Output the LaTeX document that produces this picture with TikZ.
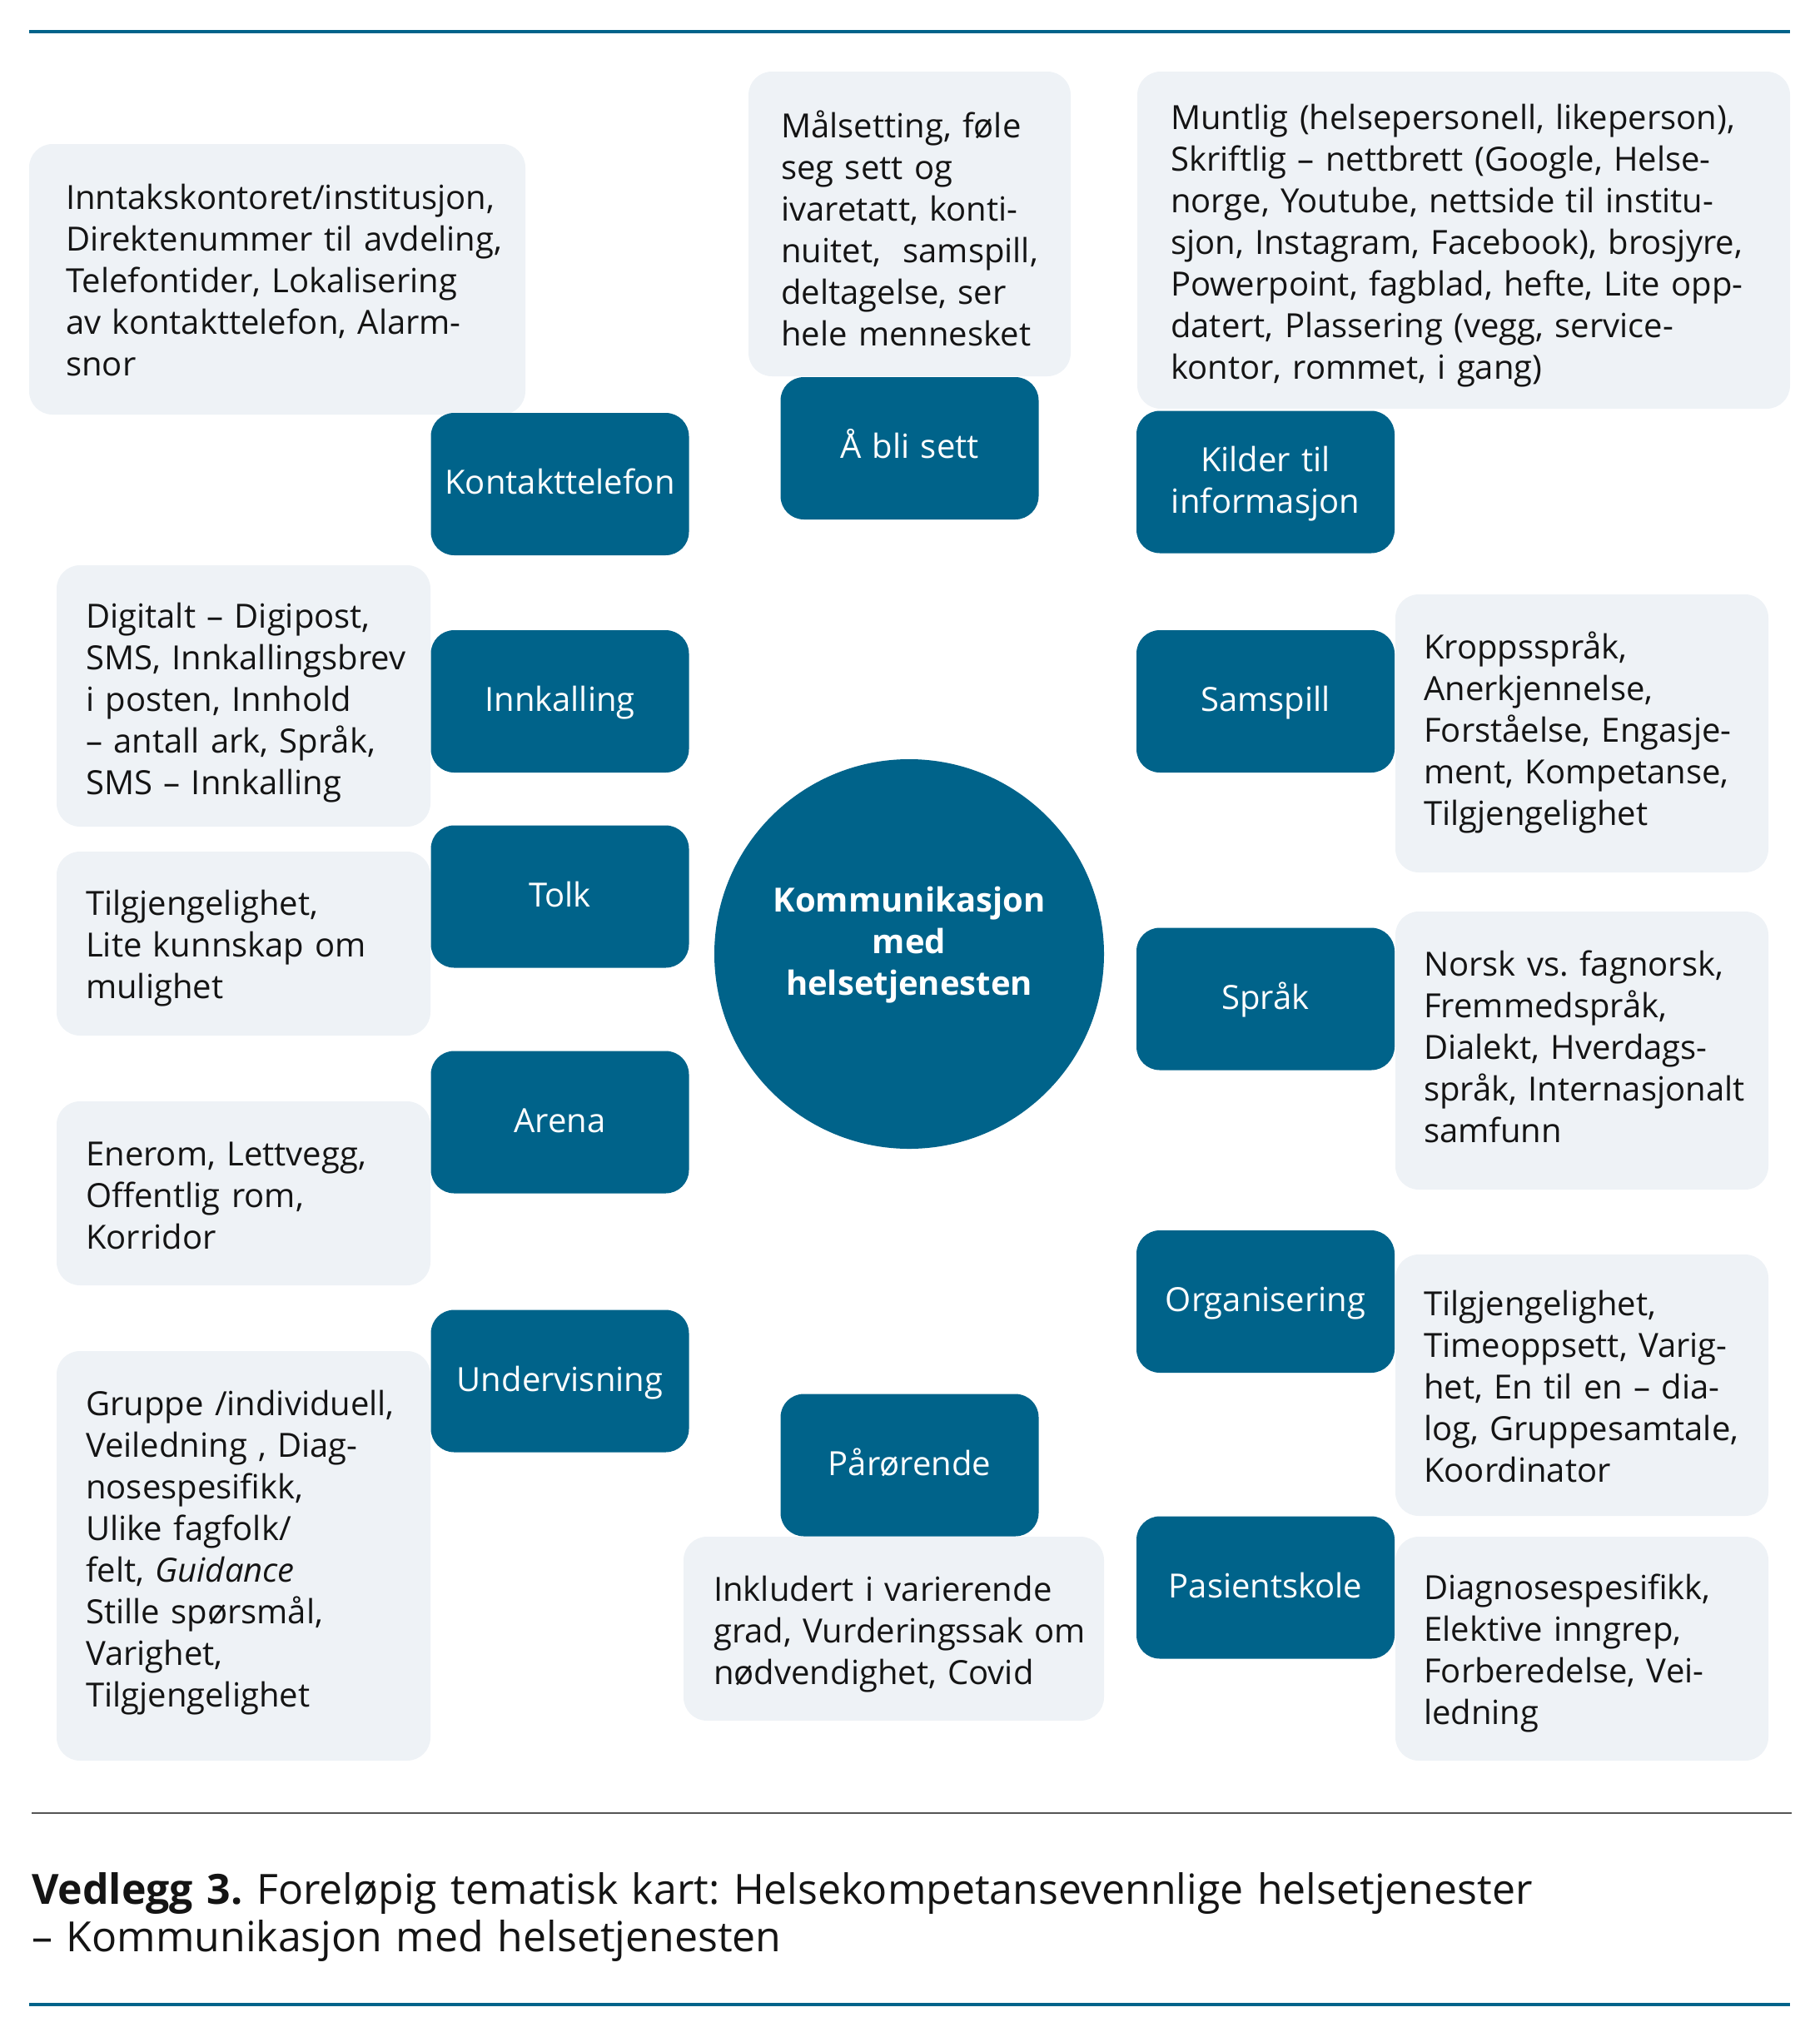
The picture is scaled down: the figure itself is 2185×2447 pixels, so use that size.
\documentclass[tikz,border=0pt]{standalone}
\usepackage{fontspec}
\setmainfont{Open Sans}
\frenchspacing

\definecolor{TemaBla}{RGB}{0,99,138}
\definecolor{Infoflate}{RGB}{238,242,246}
\definecolor{Brodtekst}{RGB}{20,20,20}
\definecolor{Skillelinje}{RGB}{85,85,85}

\newcommand{\linjestrut}{\vrule height 39.6pt depth 10.4pt width 0pt}
\newcommand{\temastrut}{\vrule height 37pt depth 13pt width 0pt}

\tikzset{
  tema/.style={fill=TemaBla, text=white, rounded corners=28pt,
    text width=310pt, minimum height=171pt, inner sep=0pt, align=center,
    font=\fontsize{40}{50}\selectfont,
    execute at begin node=\temastrut, execute at end node=\temastrut},
  infoflate/.style={fill=Infoflate, rounded corners=28pt},
  infotekst/.style={anchor=west, text width=1000pt, inner sep=0pt, align=left,
    text=Brodtekst, font=\fontsize{40}{50}\selectfont,
    execute at begin node=\linjestrut, execute at end node=\linjestrut},
  nav/.style={circle, fill=TemaBla, minimum size=468pt, inner sep=0pt},
  navtekst/.style={text=white, text width=468pt, inner sep=0pt, align=center,
    font=\fontsize{40}{50}\selectfont\bfseries,
    execute at begin node=\linjestrut, execute at end node=\linjestrut},
  bildetekst/.style={anchor=base west, text width=2150pt, inner sep=0pt,
    align=left, text=Brodtekst, font=\fontsize{50}{57}\selectfont},
  hovedlinje/.style={draw=TemaBla, line width=4.3pt},
  skillelinje/.style={draw=Skillelinje, line width=1.3pt}
}

\begin{document}
\begin{tikzpicture}[x=1pt, y=-1pt]

\useasboundingbox (0,0) rectangle (2185,2447);

\coordinate (TopV) at (35,38);
\coordinate (TopH) at (2150,38);
\coordinate (SkilleV) at (38,2178);
\coordinate (SkilleH) at (2152,2178);
\coordinate (BunnV) at (35,2408);
\coordinate (BunnH) at (2150,2408);

\draw[hovedlinje] (TopV) -- (TopH);
\draw[skillelinje] (SkilleV) -- (SkilleH);
\draw[hovedlinje] (BunnV) -- (BunnH);

% Lyse flater
\fill[infoflate] (35,173) rectangle (631,498);
\fill[infoflate] (899,86) rectangle (1286,452);
\fill[infoflate] (1366,86) rectangle (2150,491);
\fill[infoflate] (68,679) rectangle (517,993);
\fill[infoflate] (68,1023) rectangle (517,1244);
\fill[infoflate] (68,1323) rectangle (517,1544);
\fill[infoflate] (68,1623) rectangle (517,2115);
\fill[infoflate] (821,1846) rectangle (1326,2067);
\fill[infoflate] (1676,714) rectangle (2124,1048);
\fill[infoflate] (1676,1095) rectangle (2124,1429);
\fill[infoflate] (1676,1507) rectangle (2124,1821);
\fill[infoflate] (1676,1846) rectangle (2124,2115);

\node[infotekst] (kontaktinfo) at (79,337) {Inntakskontoret/institusjon,\\Direktenummer til avdeling,\\Telefontider, Lokalisering\\av kontakttelefon, Alarm-\\snor};
\node[infotekst] (settinfo) at (938,276) {Målsetting, føle\\seg sett og\\ivaretatt, konti-\\nuitet,~ samspill,\\deltagelse, ser\\hele mennesket};
\node[infotekst] (kildeinfo) at (1406,291) {Muntlig (helsepersonell, likeperson),\\Skriftlig – nettbrett (Google, Helse-\\norge, Youtube, nettside til institu-\\sjon, Instagram, Facebook), brosjyre,\\Powerpoint, fagblad, hefte, Lite opp-\\datert, Plassering (vegg, service-\\kontor, rommet, i gang)};
\node[infotekst] (innkallinginfo) at (103,840) {Digitalt – Digipost,\\SMS, Innkallingsbrev\\i posten, Innhold\\– antall ark, Språk,\\SMS – Innkalling};
\node[infotekst] (tolkinfo) at (103,1135) {Tilgjengelighet,\\Lite kunnskap om\\mulighet};
\node[infotekst] (arenainfo) at (103,1436) {Enerom, Lettvegg,\\Offentlig rom,\\Korridor};
\node[infotekst] (undervisninginfo) at (103,1861) {Gruppe /individuell,\\Veiledning , Diag-\\nosespesifikk,\\Ulike fagfolk/\\felt, \textit{Guidance}\\Stille spørsmål,\\Varighet,\\Tilgjengelighet};
\node[infotekst] (parorendeinfo) at (857,1959) {Inkludert i varierende\\grad, Vurderingssak om\\nødvendighet, Covid};
\node[infotekst] (samspillinfo) at (1710,877) {Kroppsspråk,\\Anerkjennelse,\\Forståelse, Engasje-\\ment, Kompetanse,\\Tilgjengelighet};
\node[infotekst] (spraakinfo) at (1710,1258) {Norsk vs. fagnorsk,\\Fremmedspråk,\\Dialekt, Hverdags-\\språk, Internasjonalt\\samfunn};
\node[infotekst] (organiseringinfo) at (1710,1666) {Tilgjengelighet,\\Timeoppsett, Varig-\\het, En til en – dia-\\log, Gruppesamtale,\\Koordinator};
\node[infotekst] (skoleinfo) at (1710,1982) {Diagnosespesifikk,\\Elektive inngrep,\\Forberedelse, Vei-\\ledning};

% Temaer
\node[tema] (kontakt) at (672.5,581.5) {Kontakttelefon};
\node[tema] (sett) at (1092.5,538.5) {Å bli sett};
\node[tema] (kilder) at (1520,579) {Kilder til\\informasjon};
\node[tema] (innkalling) at (672.5,842.5) {Innkalling};
\node[tema] (samspill) at (1520,842.5) {Samspill};
\node[tema] (tolk) at (672.5,1077) {Tolk};
\node[tema] (spraak) at (1520,1200) {Språk};
\node[tema] (arena) at (672.5,1348) {Arena};
\node[tema] (organisering) at (1520,1563.5) {Organisering};
\node[tema] (undervisning) at (672.5,1659) {Undervisning};
\node[tema] (parorende) at (1092.5,1760) {Pårørende};
\node[tema] (skole) at (1520,1907) {Pasientskole};

\node[nav] (nav) at (1092,1146) {};
\node[navtekst] (navtekst) at ([yshift=15pt]nav.center) {Kommunikasjon\\med\\helsetjenesten};

\node[bildetekst] (tittel) at (38,2287) {\textbf{Vedlegg 3.} Foreløpig tematisk kart: Helsekompetansevennlige helsetjenester\\– Kommunikasjon med helsetjenesten};

\end{tikzpicture}
\end{document}
